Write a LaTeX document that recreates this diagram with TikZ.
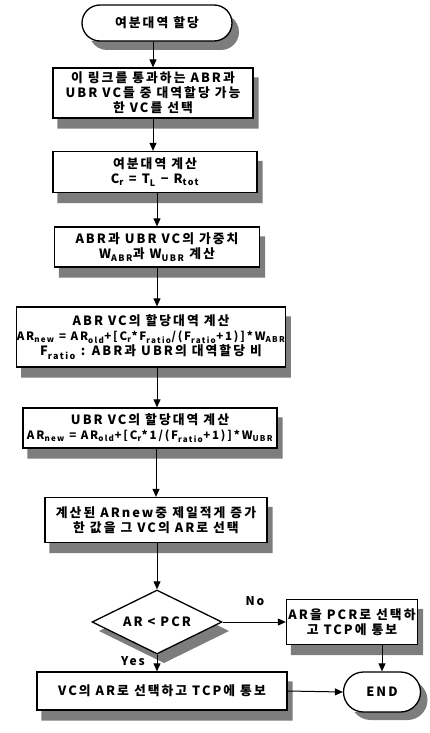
\documentclass[tikz,border=0pt]{standalone}
\usepackage{fontspec}
\setmainfont{Noto Sans CJK KR}[LetterSpace=16]
\usetikzlibrary{shapes.geometric,shapes.misc,arrows.meta}
\pgfdeclarelayer{bg}
\pgfsetlayers{bg,main}
\definecolor{shadowgray}{RGB}{125,125,125}
\newcommand{\rectshadow}[1]{%
  \fill[shadowgray] ([shift={(0,10)}]#1.north east) -- ([shift={(5,10)}]#1.north east)
    -- ([shift={(5,10)}]#1.south east) -- ([shift={(5,10)}]#1.south west)
    -- ([shift={(5,0)}]#1.south west) -- (#1.south east) -- cycle;}
\begin{document}
\begin{tikzpicture}[x=1pt,y=-1pt,
  box/.style={draw,line width=1.3pt,align=center,inner sep=0pt,font=\bfseries\fontsize{12.8}{15}\selectfont},
  term/.style={rounded rectangle},
  dia/.style={diamond,aspect=2},
  conn/.style={line width=1pt,-{Triangle[length=8pt,width=7pt]}},
  lbl/.style={font=\bfseries\fontsize{12}{14}\selectfont}]
\useasboundingbox (0,0) rectangle (429,733);
% boxes
\node[box,term,minimum width=150pt,minimum height=36pt] (start) at (157,23) {여분대역 할당};
\node[box,minimum width=200pt,minimum height=50pt] (b2) at (153,93)
  {이 링크를 통과하는 ABR과\\UBR VC들 중 대역할당 가능\\한 VC를 선택};
\node[box,minimum width=204pt,minimum height=41pt] (b3) at (155,172)
  {여분대역 계산\\C\textsubscript{r} = T\textsubscript{L} − R\textsubscript{tot}};
\node[box,minimum width=205pt,minimum height=40pt] (b4) at (157,247)
  {ABR과 UBR VC의 가중치\\W\textsubscript{ABR}과 W\textsubscript{UBR} 계산};
\node[box,minimum width=258pt,minimum height=60pt] (b5) at (151,337)
  {ABR VC의 할당대역 계산\\{\fontsize{11.5}{14}\selectfont AR\textsubscript{new} = AR\textsubscript{old}+[C\textsubscript{r}*F\textsubscript{ratio}/(F\textsubscript{ratio}+1)]*W\textsubscript{ABR}}\\F\textsubscript{ratio} : ABR과 UBR의 대역할당 비};
\node[box,minimum width=254pt,minimum height=40pt] (b6) at (150,428)
  {UBR VC의 할당대역 계산\\{\fontsize{11.5}{14}\selectfont AR\textsubscript{new} = AR\textsubscript{old}+[C\textsubscript{r}*1/(F\textsubscript{ratio}+1)]*W\textsubscript{UBR}}};
\node[box,minimum width=222pt,minimum height=45pt] (b7) at (156,520)
  {계산된 ARnew중 제일적게 증가\\한 값을 그 VC의 AR로 선택};
\node[box,dia,minimum width=130pt,minimum height=64pt] (d) at (157,622) {AR < PCR};
\node[box,minimum width=131pt,minimum height=45pt] (no) at (352,622)
  {AR을 PCR로 선택하\\고 TCP에 통보};
\node[box,minimum width=250pt,minimum height=38pt] (yes) at (162,691)
  {VC의 AR로 선택하고 TCP에 통보};
\node[box,term,minimum width=77pt,minimum height=40pt] (end) at (382,692) {END};
\node[lbl] (nolbl) at (255,601) {No};
\node[lbl] (yeslbl) at (133,661) {Yes};
% shadows (only the parts not covered by the shapes)
\begin{pgfonlayer}{bg}
\foreach \n in {b2,b3,b4,b5,b6,b7,no,yes}{\rectshadow{\n}}
\begin{scope}[shift={(d.center)}]
  \fill[shadowgray] (59.4,2.8) -- (72,9) -- (7,41) -- (-58,9) -- (-52.4,6.2) -- (0,32) -- cycle;
\end{scope}
\begin{scope}[shift={(start.center)},yscale=-1]
  \fill[shadowgray] (-65.6,-18) arc[start angle=210,end angle=270,radius=18] -- (64,-27)
    arc[start angle=270,end angle=416.4,radius=18] arc[start angle=19.4,end angle=-90,radius=18]
    -- (-57,-18) -- cycle;
\end{scope}
\begin{scope}[shift={(end.center)},yscale=-1]
  \fill[shadowgray] (-27.5,-20) arc[start angle=216.87,end angle=270,radius=20] -- (25.5,-28)
    arc[start angle=270,end angle=416.6,radius=20] arc[start angle=25.8,end angle=-90,radius=20]
    -- (-18.5,-20) -- cycle;
\end{scope}
\end{pgfonlayer}
% connectors
\draw[conn] (start.south -| b2.north) -- (b2.north);
\draw[conn] (b2.south) -- (b2.south |- b3.north);
\draw[conn] (b3.south -| b4.north) -- (b4.north);
\draw[conn] (b4.south) -- (b4.south |- b5.north);
\draw[conn] (b5.south -| b4.south) -- (b6.north -| b4.south);
\draw[conn] (b6.south -| b7.north) -- (b7.north);
\draw[conn] (b7.south -| d.north) -- (d.north);
\draw[conn] (d.east) -- (no.west);
\draw[conn] (d.south) -- (d.south |- yes.north);
\draw[conn] (no.south -| end.north) -- (end.north);
\draw[conn] (yes.east) -- (end.west);
\end{tikzpicture}
\end{document}
